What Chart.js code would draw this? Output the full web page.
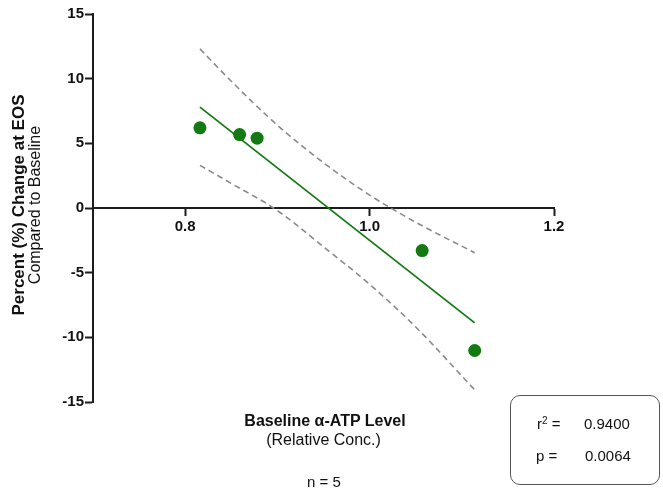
<!DOCTYPE html>
<html>
<head>
<meta charset="utf-8">
<script src="https://cdn.jsdelivr.net/npm/chart.js@4/dist/chart.umd.min.js"></script>
<style>
  html, body { margin: 0; padding: 0; background: #ffffff; }
  #wrap { position: relative; width: 663px; height: 493px; overflow: hidden; font-family: "Liberation Sans", Arial, Helvetica, sans-serif; color: #111; }
  canvas { position: absolute; left: 0; top: 0; }
  .t { position: absolute; white-space: nowrap; line-height: 1; }
  .rot { transform: translate(-50%, -50%) rotate(-90deg); }
  .ctr { transform: translate(-50%, -50%); }
  #statbox { position: absolute; left: 510px; top: 395px; width: 150px; height: 90px; border: 1.5px solid #555; border-radius: 10px; box-sizing: border-box; }
</style>
</head>
<body>
<div id="wrap">
  <canvas id="c" width="663" height="493"></canvas>
  <div class="t rot" style="left:17.5px; top:205px; font-size:17px; font-weight:bold;">Percent (%) Change at EOS</div>
  <div class="t rot" style="left:34.5px; top:205px; font-size:16px;">Compared to Baseline</div>
  <div class="t ctr" style="left:325px; top:421px; font-size:16px; font-weight:bold;">Baseline &alpha;-ATP Level</div>
  <div class="t ctr" style="left:323.5px; top:440px; font-size:16px;">(Relative Conc.)</div>
  <div class="t ctr" style="left:324px; top:481px; font-size:15px;">n = 5</div>
  <div id="statbox"></div>
  <div class="t" style="left:537px; top:416px; font-size:15px;">r<sup style="font-size:10px; vertical-align:5px; line-height:0;">2</sup> =</div>
  <div class="t" style="left:584px; top:416px; font-size:15px;">0.9400</div>
  <div class="t" style="left:536px; top:448px; font-size:15px;">p =</div>
  <div class="t" style="left:585px; top:448px; font-size:15px;">0.0064</div>
</div>
<script>
// ---- data ----
const xTickValues = [0.8, 1.0, 1.2];
const pointX = [0.816, 0.859, 0.878, 1.057, 1.114];
const pointY = [6.20, 5.68, 5.40, -3.29, -11.02];
const fitX = [0.816, 1.114];
const fitY = [7.80, -8.88];
const bandX = [0.816, 0.85, 0.90, 0.95, 1.00, 1.05, 1.114];
const upperY = [12.3, 9.8, 6.4, 3.5, 1.0, -1.1, -3.46];
const lowerY = [3.3, 1.9, -0.2, -3.0, -5.9, -9.2, -14.06];

const green = '#137a13';
const dashGray = '#8a8a8a';
const axisColor = '#1c1c1c';

const toXY = (xs, ys) => xs.map((x, i) => ({ x: x, y: ys[i] }));

new Chart(document.getElementById('c'), {
  type: 'scatter',
  data: {
    datasets: [
      { label: 'data', data: toXY(pointX, pointY), pointRadius: 6.5, pointBackgroundColor: green, pointBorderColor: green, pointBorderWidth: 0, showLine: false },
      { label: 'fit', data: toXY(fitX, fitY), showLine: true, pointRadius: 0, borderColor: green, borderWidth: 1.8, fill: false },
      { label: 'upper', data: toXY(bandX, upperY), showLine: true, pointRadius: 0, borderColor: dashGray, borderWidth: 1.6, borderDash: [6, 4], cubicInterpolationMode: 'monotone', fill: false },
      { label: 'lower', data: toXY(bandX, lowerY), showLine: true, pointRadius: 0, borderColor: dashGray, borderWidth: 1.6, borderDash: [6, 4], cubicInterpolationMode: 'monotone', fill: false }
    ]
  },
  options: {
    responsive: false,
    animation: false,
    devicePixelRatio: 1,
    layout: { padding: { left: 43, right: 109, top: 14, bottom: 91 } },
    plugins: { legend: { display: false }, tooltip: { enabled: false } },
    scales: {
      x: {
        type: 'linear',
        position: { y: 0 },
        min: 0.7, max: 1.2,
        afterBuildTicks: (s) => { s.ticks = xTickValues.map(v => ({ value: v })); },
        afterFit: (s) => { s.height = 20; },
        ticks: {
          autoSkip: false, maxRotation: 0, padding: 3, color: '#111',
          font: { family: '"Liberation Sans", Arial, sans-serif', size: 15, weight: 'bold' },
          callback: (v) => Number(v).toFixed(1)
        },
        grid: { drawOnChartArea: false, drawTicks: true, tickLength: 7, tickWidth: 2, tickColor: axisColor },
        border: { display: true, color: axisColor, width: 2 }
      },
      y: {
        type: 'linear',
        position: 'left',
        min: -15, max: 15,
        afterFit: (s) => { s.width = 50; },
        ticks: {
          stepSize: 5, padding: 1, color: '#111',
          font: { family: '"Liberation Sans", Arial, sans-serif', size: 15, weight: 'bold' }
        },
        grid: { drawOnChartArea: false, drawTicks: true, tickLength: 8, tickWidth: 2, tickColor: axisColor },
        border: { display: true, color: axisColor, width: 2 }
      }
    }
  }
});
</script>
</body>
</html>
